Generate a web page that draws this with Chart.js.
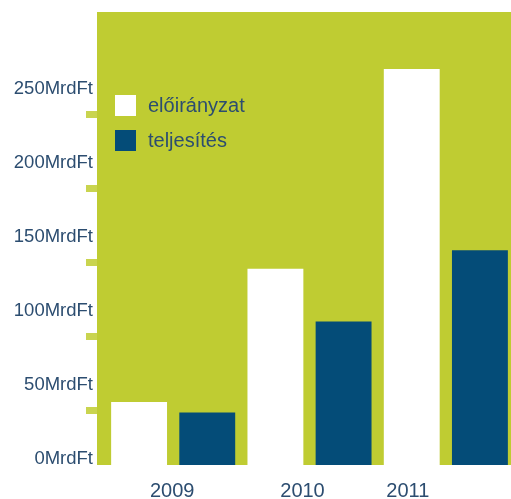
<!DOCTYPE html>
<html>
<head>
<meta charset="utf-8">
<script src="https://cdn.jsdelivr.net/npm/chart.js@4"></script>
<style>
  html, body { margin: 0; padding: 0; background: #fff; overflow: hidden; }
  #wrap { width: 511px; height: 499px; overflow: hidden; }
</style>
</head>
<body>
<div id="wrap"><canvas id="chart" width="514" height="499"></canvas></div>
<script>
// data
const years = ['2009', '2010', '2011'];
const planned = [42.5, 132.5, 267.5];   // előirányzat
const actual = [35.5, 97, 145];         // teljesítés
const yTicks = [0, 50, 100, 150, 200, 250];

const GREEN = '#bfcc32';
const TICK_GREEN = '#c9d44f';
const BLUE = '#044c78';
const TEXT = '#2c4d70';
const FONT = '"Liberation Sans", Arial, sans-serif';

// small shifts of the year labels as in the original
const xLabelShift = [-1, -7, -38];

const bgPlugin = {
  id: 'bg',
  beforeDraw(chart) {
    const { ctx, chartArea: a } = chart;
    ctx.save();
    ctx.fillStyle = GREEN;
    ctx.fillRect(a.left - 8, 12, chart.width, a.bottom - 12);
    // little tick marks left of the plot
    const y = chart.scales.y;
    ctx.fillStyle = TICK_GREEN;
    yTicks.filter(v => v > 0).forEach(v => {
      const py = y.getPixelForValue(v - 13);
      ctx.fillRect(a.left - 19, Math.round(py - 3.5), 11, 7);
    });
    ctx.restore();
  },
  afterDraw(chart) {
    const { ctx, chartArea: a } = chart;
    const x = chart.scales.x;
    ctx.save();
    ctx.fillStyle = TEXT;
    ctx.font = '20px ' + FONT;
    ctx.textAlign = 'center';
    ctx.textBaseline = 'middle';
    years.forEach((lbl, i) => {
      ctx.fillText(lbl, x.getPixelForValue(i) + xLabelShift[i], a.bottom + 26);
    });
    // legend inside the plot
    chart.data.datasets.forEach((ds, i) => {
      const top = 95 + i * 35;
      ctx.fillStyle = ds.backgroundColor;
      ctx.fillRect(a.left + 10, top, 21, 21);
      ctx.fillStyle = TEXT;
      ctx.textAlign = 'left';
      ctx.fillText(ds.label, a.left + 43, top + 11);
    });
    ctx.restore();
  }
};

new Chart(document.getElementById('chart'), {
  type: 'bar',
  data: {
    labels: years,
    datasets: [
      { label: 'előirányzat', data: planned, backgroundColor: '#ffffff', borderWidth: 0 },
      { label: 'teljesítés', data: actual, backgroundColor: BLUE, borderWidth: 0 },
    ],
  },
  options: {
    responsive: false,
    animation: false,
    layout: { padding: { top: 2, right: 0, bottom: 0, left: 0 } },
    datasets: { bar: { categoryPercentage: 1.0, barPercentage: 0.82 } },
    plugins: { legend: { display: false }, tooltip: { enabled: false } },
    scales: {
      x: {
        grid: { display: false },
        border: { display: false },
        ticks: { display: false },
        afterFit: s => { s.height = 34; },
      },
      y: {
        min: 0,
        max: 298.5,
        grid: { display: false, drawTicks: false },
        border: { display: false },
        afterBuildTicks: s => { s.ticks = yTicks.map(v => ({ value: v })); },
        afterFit: s => { s.width = 105; },
        ticks: {
          padding: 12,
          labelOffset: -6,
          color: TEXT,
          font: { family: FONT, size: 18.5 },
          callback: v => v + 'MrdFt',
        },
      },
    },
  },
  plugins: [bgPlugin],
});
</script>
</body>
</html>
